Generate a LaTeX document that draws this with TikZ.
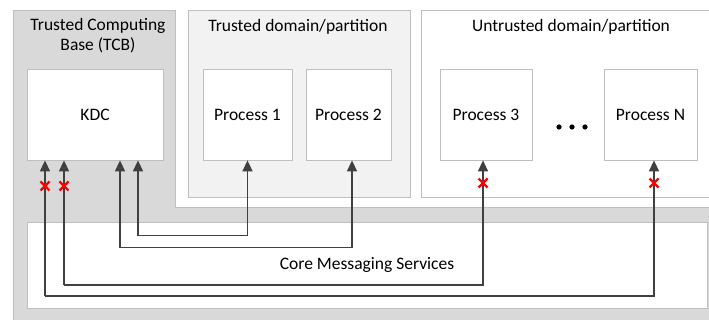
\documentclass[tikz,border=0pt]{standalone}
\usepackage{fontspec}
\setmainfont{Carlito}
\usetikzlibrary{arrows.meta}
\definecolor{tcbgray}{HTML}{D9D9D9}
\definecolor{domgray}{HTML}{F2F2F2}
\definecolor{edgegray}{HTML}{BFBFBF}
\definecolor{linkgray}{HTML}{404040}
\begin{document}
\begin{tikzpicture}[x=1pt,y=-1pt,
  font=\fontsize{17.5}{20}\selectfont,
  region/.style={draw=edgegray,line width=0.8pt},
  procbox/.style={draw=edgegray,fill=white,line width=0.8pt,minimum width=#1,minimum height=91pt,inner sep=0pt},
  procbox/.default=89pt,
  link/.style={draw=linkgray,line width=1.4pt,{Triangle[width=10pt,length=11pt]}-{Triangle[width=10pt,length=11pt]}},
  uplink/.style={draw=linkgray,line width=1.4pt,-{Triangle[width=10pt,length=11pt]}},
  xmark/.pic={\draw[red,line width=2.4pt] (-4.5,-4.5)--(4.5,4.5) (-4.5,4.5)--(4.5,-4.5);}
]
\useasboundingbox (0,0) rectangle (709,320);
\fill[white] (0,0) rectangle (709,320);

% Trusted Computing Base: the L-shaped grey area
\fill[tcbgray] (13,10) rectangle (711,322);
\draw[region] (711,322) -- (13,322) |- (175,10);
\fill[white] (175,-2) rectangle (711,207);
\draw[region] (175,10) |- (711,207);
\node[align=center] (tcb) at (98,36) {Trusted Computing\\Base (TCB)};

% Trusted and untrusted domains
\draw[region,fill=domgray] (188,10) rectangle (410,197);
\node (trusted) at (298,27) {Trusted domain/partition};
\draw[region,fill=white] (421,10) rectangle (712,197);
\node (untrusted) at (571,27) {Untrusted domain/partition};

% Processes
\node[procbox=136pt] (kdc) at (95,114.5) {KDC};
\node[procbox] (p1) at (247.5,114.5) {Process 1};
\node[procbox=85pt] (p2) at (348.5,114.5) {Process 2};
\node[procbox=92pt] (p3) at (486,114.5) {Process 3};
\node[procbox=93pt] (pn) at (650.5,114.5) {Process N};
\foreach \dx in {-13,0,13} \fill (572+\dx,127) circle (2.6);

% Core messaging services
\node[draw=edgegray,fill=white,line width=0.8pt,minimum width=680pt,minimum height=86pt,inner sep=0pt] (core) at (367,265) {Core Messaging Services};

% Message paths through the core services
\draw[link] ([xshift=43pt]kdc.south) -- ++(0,75) -| (p1.south);
\draw[link] ([xshift=25pt]kdc.south) -- ++(0,87) -| ([xshift=3.5pt]p2.south);
\draw[uplink] ([xshift=-31pt]kdc.south |- 0,285) coordinate (r3) -- ([xshift=-31pt]kdc.south);
\draw[uplink] (r3) -| ([xshift=-3pt]p3.south);
\draw[uplink] ([xshift=-50pt]kdc.south |- 0,296) coordinate (rn) -- ([xshift=-50pt]kdc.south);
\draw[uplink] (rn) -| ([xshift=3.5pt]pn.south);

% Blocked paths
\pic at (45,186) {xmark};
\pic at (64,186) {xmark};
\pic at (483,183) {xmark};
\pic at (654,183) {xmark};
\end{tikzpicture}
\end{document}
